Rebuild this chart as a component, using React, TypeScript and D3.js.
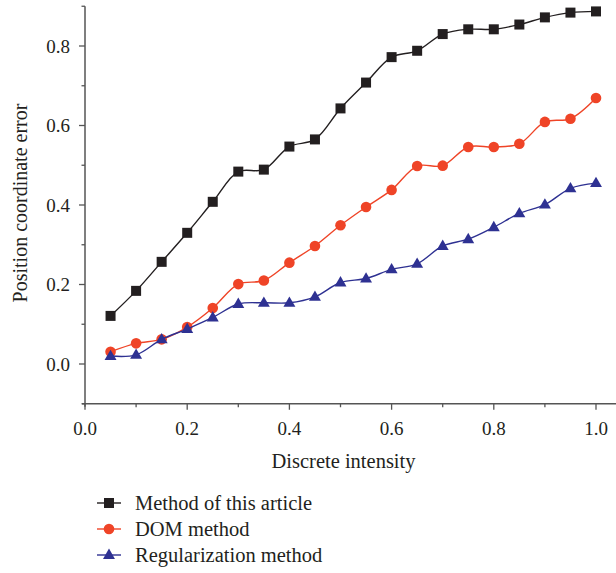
import React from "react";
import * as d3 from "d3";

const xValues = [0.05, 0.1, 0.15, 0.2, 0.25, 0.3, 0.35, 0.4, 0.45, 0.5, 0.55, 0.6, 0.65, 0.7, 0.75, 0.8, 0.85, 0.9, 0.95, 1.0];
const articleValues = [0.121, 0.184, 0.257, 0.33, 0.408, 0.484, 0.489, 0.547, 0.565, 0.643, 0.708, 0.772, 0.788, 0.83, 0.842, 0.842, 0.854, 0.872, 0.884, 0.887];
const domValues = [0.031, 0.052, 0.062, 0.093, 0.141, 0.201, 0.21, 0.255, 0.297, 0.349, 0.395, 0.438, 0.498, 0.499, 0.546, 0.546, 0.554, 0.609, 0.617, 0.669];
const regValues = [0.02, 0.023, 0.062, 0.088, 0.117, 0.151, 0.154, 0.154, 0.169, 0.205, 0.215, 0.238, 0.252, 0.297, 0.314, 0.344, 0.379, 0.401, 0.442, 0.455];
const seriesNames = ["Method of this article", "DOM method", "Regularization method"];
const xTicks = [0, 0.2, 0.4, 0.6, 0.8, 1.0];
const yTicks = [0, 0.2, 0.4, 0.6, 0.8];

const W = 616, H = 573;
const FONT = "'Liberation Serif', 'DejaVu Serif', serif";
const colors = ["#231f20", "#ef4427", "#2e3192"];

export default function App() {
  const x = d3.scaleLinear().domain([0, 1]).range([85, 596]);
  const y = d3.scaleLinear().domain([0, 0.8]).range([364, 46]);
  const x0 = x(0), yBottom = y(-0.1), yTop = y(0.9);
  const line = d3.line<[number, number]>()
    .x(d => x(d[0])).y(d => y(d[1]))
    .curve(d3.curveCatmullRom.alpha(0.5));
  const all = [articleValues, domValues, regValues];
  const minorX = d3.range(0, 1.05, 0.1).map(v => +v.toFixed(2));
  const minorY = d3.range(-0.1, 0.95, 0.1).map(v => +v.toFixed(2));
  const tri = d3.symbol().type(d3.symbolTriangle).size(62)() as string;

  const marker = (k: number, cx: number, cy: number, key: string) => {
    if (k === 0) return <rect key={key} x={cx - 5} y={cy - 5} width={10} height={10} fill={colors[0]} />;
    if (k === 1) return <circle key={key} cx={cx} cy={cy} r={5.3} fill={colors[1]} />;
    return <path key={key} d={tri} transform={`translate(${cx},${cy + 0.5})`} fill={colors[2]} />;
  };

  return (
    <svg width={W} height={H} style={{ position: "absolute", left: 0, top: 0, background: "#fff" }} fontFamily={FONT}>
      {/* axes */}
      <line x1={x0} x2={x0} y1={yTop} y2={yBottom + 3} stroke="#555" strokeWidth={1.5} />
      <line x1={x0 - 3} x2={W} y1={yBottom} y2={yBottom} stroke="#555" strokeWidth={1.5} />
      {minorY.map(v => {
        const major = Math.abs(Math.round(v * 10) % 2) === 0;
        return <line key={"yt" + v} x1={x0 - (major ? 6 : 3.5)} x2={x0} y1={y(v)} y2={y(v)} stroke="#555" strokeWidth={1.3} />;
      })}
      {minorX.map(v => {
        const major = Math.round(v * 10) % 2 === 0;
        return <line key={"xt" + v} x1={x(v)} x2={x(v)} y1={yBottom} y2={yBottom + (major ? 6 : 3.5)} stroke="#555" strokeWidth={1.3} />;
      })}
      {yTicks.map(v => (
        <text key={"yl" + v} x={x0 - 15} y={y(v)} dy="0.35em" textAnchor="end" fontSize={19} fill="#231f20">{v.toFixed(1)}</text>
      ))}
      {xTicks.map(v => (
        <text key={"xl" + v} x={x(v)} y={yBottom + 31} textAnchor="middle" fontSize={19} fill="#231f20">{v.toFixed(1)}</text>
      ))}
      <text x={(x(0) + x(1)) / 2 + 3} y={468} textAnchor="middle" fontSize={20.5} fill="#231f20">Discrete intensity</text>
      <text transform={`translate(27,203) rotate(-90)`} textAnchor="middle" fontSize={20} fill="#231f20">Position coordinate error</text>
      {/* series */}
      {all.map((vals, k) => (
        <g key={"s" + k}>
          <path d={line(xValues.map((xv, i) => [xv, vals[i]] as [number, number])) as string} fill="none" stroke={colors[k]} strokeWidth={1.4} />
          {xValues.map((xv, i) => marker(k, x(xv), y(vals[i]), `m${k}-${i}`))}
        </g>
      ))}
      {/* legend */}
      {seriesNames.map((name, k) => {
        const ly = 503 + k * 26;
        return (
          <g key={"lg" + k}>
            <line x1={97} x2={121} y1={ly} y2={ly} stroke={colors[k]} strokeWidth={1.4} />
            {marker(k, 109, ly, "lm" + k)}
            <text x={135} y={ly} dy="0.35em" fontSize={20.5} fill="#231f20">{name}</text>
          </g>
        );
      })}
    </svg>
  );
}
